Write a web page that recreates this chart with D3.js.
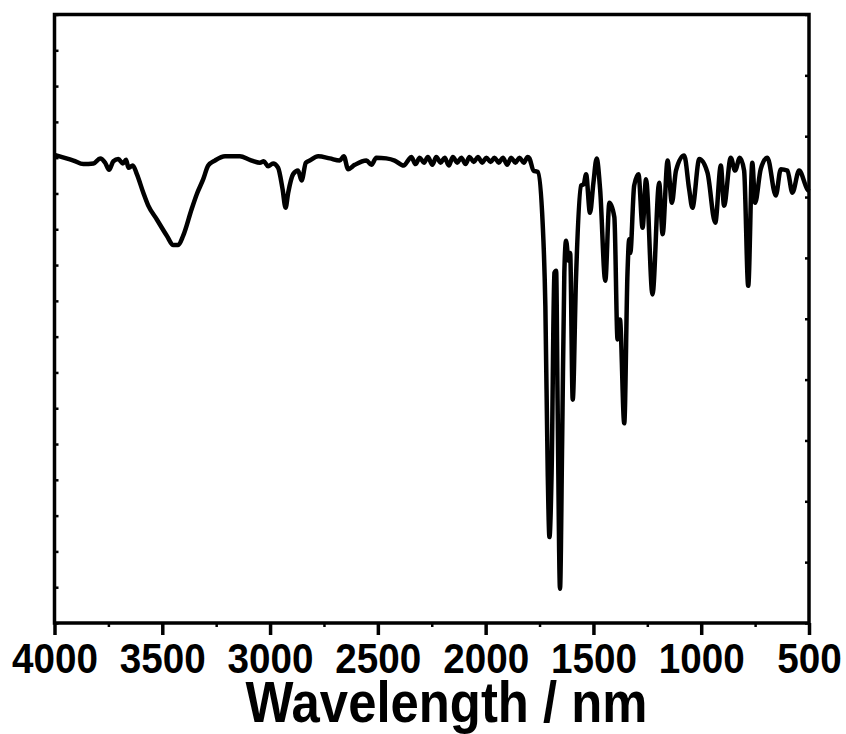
<!DOCTYPE html>
<html>
<head>
<meta charset="utf-8">
<script src="https://cdn.jsdelivr.net/npm/d3@7"></script>
<style>
  body { margin: 0; background: #fff; }
  svg { display: block; font-family: "Liberation Sans", Arial, sans-serif; font-weight: bold; }
</style>
</head>
<body>
<svg width="846" height="734"></svg>
<script>
// IR spectrum (wavenumber, transmittance a.u.)
const wavenumber = [
  4000, 3912, 3866, 3819, 3788, 3765, 3747, 3727, 3704, 3683, 3668, 3657, 3637, 3618, 3588, 3565,
  3526, 3479, 3449, 3426, 3403, 3364, 3340, 3310, 3287, 3256, 3209, 3140, 3094, 3047, 3029, 3009,
  2986, 2963, 2942, 2928, 2916, 2893, 2870, 2854, 2834, 2816, 2777, 2723, 2677, 2658, 2638, 2607,
  2553, 2530, 2507, 2461, 2422, 2380, 2360,
  2345, 2325, 2306, 2286, 2268, 2247, 2229, 2209, 2190, 2171, 2152, 2132, 2113, 2093, 2075, 2055,
  2036, 2016, 1997, 1977, 1959, 1939, 1920, 1900, 1882, 1862, 1843, 1823, 1805,
  1797, 1778, 1758, 1735, 1723, 1712, 1704, 1694, 1681, 1673, 1666, 1655, 1645, 1635, 1627, 1615,
  1608, 1596, 1581, 1557, 1545, 1534, 1516, 1500, 1485, 1469, 1445, 1426, 1403, 1388, 1377, 1357,
  1342, 1334, 1329, 1311, 1291, 1272, 1256, 1226, 1195, 1179, 1156, 1136, 1117, 1079, 1056, 1041,
  1009, 971, 935, 909, 894, 863, 843, 821, 801, 782, 763, 750, 724, 693, 654, 631,
  600, 577, 546, 508, 500
];
const transmittance = [
  65.4, 64.6, 64.1, 64.2, 64.9, 64.3, 63.3, 64.5, 64.8, 64.2, 64.7, 63.6, 63.9, 62.7, 60.1, 58.3,
  56.4, 54.1, 52.8, 52.8, 54.1, 57.8, 59.9, 62.0, 63.9, 64.6, 65.2, 65.2, 64.7, 64.3, 64.5, 63.8,
  64.2, 63.6, 60.6, 58.0, 60.1, 62.7, 63.2, 61.8, 64.3, 64.6, 65.2, 64.9, 64.6, 65.2, 63.4, 64.0,
  64.6, 64.0, 65.0, 64.9, 64.6, 63.9, 64.6,
  65.1, 64.1, 65.0, 64.3, 65.1, 64.0, 65.1, 64.3, 65.0, 63.9, 65.1, 64.3, 65.0, 64.1, 65.1, 64.4,
  65.1, 64.3, 65.0, 64.4, 65.0, 64.3, 65.0, 64.0, 65.0, 64.3, 65.0, 64.3, 65.1,
  64.9, 63.2, 63.0, 55.5, 44.3, 21.0, 12.0, 21.0, 48.9, 49.2, 30.3, 4.8, 25.6, 48.9, 53.4, 50.6,
  51.7, 31.2, 48.0, 61.1, 61.3, 62.7, 57.3, 61.5, 64.9, 60.6, 47.8, 58.7, 56.7, 39.6, 42.4, 27.9,
  48.9, 53.6, 51.7, 61.1, 62.7, 55.2, 62.0, 45.9, 61.5, 54.3, 64.6, 58.7, 63.2, 65.3, 60.6, 58.0,
  64.8, 62.9, 55.9, 63.9, 58.3, 65.0, 63.2, 65.0, 63.2, 47.1, 64.3, 58.7, 63.4, 65.0, 59.7, 63.4,
  63.2, 60.1, 63.2, 60.6, 60.3
];
const xTicks = [4000, 3500, 3000, 2500, 2000, 1500, 1000, 500];
const xMinorTicks = [3750, 3250, 2750, 2250, 1750, 1250, 750];
const xLabel = "Wavelength / nm";

const svg = d3.select("svg"),
      margin = {top: 14.5, right: 37, bottom: 111, left: 54.5},
      width = +svg.attr("width") - margin.left - margin.right,
      height = +svg.attr("height") - margin.top - margin.bottom;

const g = svg.append("g").attr("transform", `translate(${margin.left},${margin.top})`);

const x = d3.scaleLinear().domain([4000, 500]).range([0, width]);
const y = d3.scaleLinear().domain([0, 85]).range([height, 0]);
const yRight = d3.scaleLinear().domain([0, 10]).range([height, 0]);

const data = wavenumber.map((w, i) => ({w, t: transmittance[i]}));

// minor ticks on the bottom axis
g.append("g")
  .attr("transform", `translate(0,${height})`)
  .call(d3.axisBottom(x).tickValues(xMinorTicks).tickSize(4).tickFormat(""))
  .call(a => a.select(".domain").remove())
  .selectAll("line").attr("stroke-width", 2.5);

const xAxisG = g.append("g")
  .attr("transform", `translate(0,${height})`)
  .call(d3.axisBottom(x).tickValues(xTicks).tickSize(12).tickSizeOuter(0).tickFormat(d3.format("d")));
xAxisG.select(".domain").remove();
xAxisG.selectAll("line").attr("stroke-width", 3.5);
xAxisG.selectAll("text")
  .attr("y", 50).attr("dy", null)
  .attr("fill", "#000")
  .attr("textLength", d => String(d).length * 21.5)
  .attr("lengthAdjust", "spacingAndGlyphs")
  .style("font-size", "43px")
  .style("font-weight", "bold");

// left and right ticks point inwards, no labels
const yAxisG = g.append("g")
  .call(d3.axisLeft(y).ticks(17).tickSize(-4).tickFormat(""));
yAxisG.select(".domain").remove();
yAxisG.selectAll("line").attr("stroke-width", 2.5);

const yRightG = g.append("g")
  .attr("transform", `translate(${width},0)`)
  .call(d3.axisRight(yRight).ticks(10).tickSize(-4).tickFormat(""));
yRightG.select(".domain").remove();
yRightG.selectAll("line").attr("stroke-width", 2.5);

const line = d3.line()
  .x(d => x(d.w))
  .y(d => y(d.t))
  .curve(d3.curveMonotoneX);

g.append("path")
  .datum(data)
  .attr("fill", "none")
  .attr("stroke", "#000")
  .attr("stroke-width", 4.5)
  .attr("stroke-linejoin", "round")
  .attr("d", line);

// frame
g.append("rect")
  .attr("width", width).attr("height", height)
  .attr("fill", "none")
  .attr("stroke", "#000")
  .attr("stroke-width", 3.5);

svg.append("text")
  .attr("x", 446.5).attr("y", 721.5)
  .attr("text-anchor", "middle")
  .attr("textLength", 402)
  .attr("lengthAdjust", "spacingAndGlyphs")
  .style("font-size", "58px")
  .text(xLabel);
</script>
</body>
</html>
